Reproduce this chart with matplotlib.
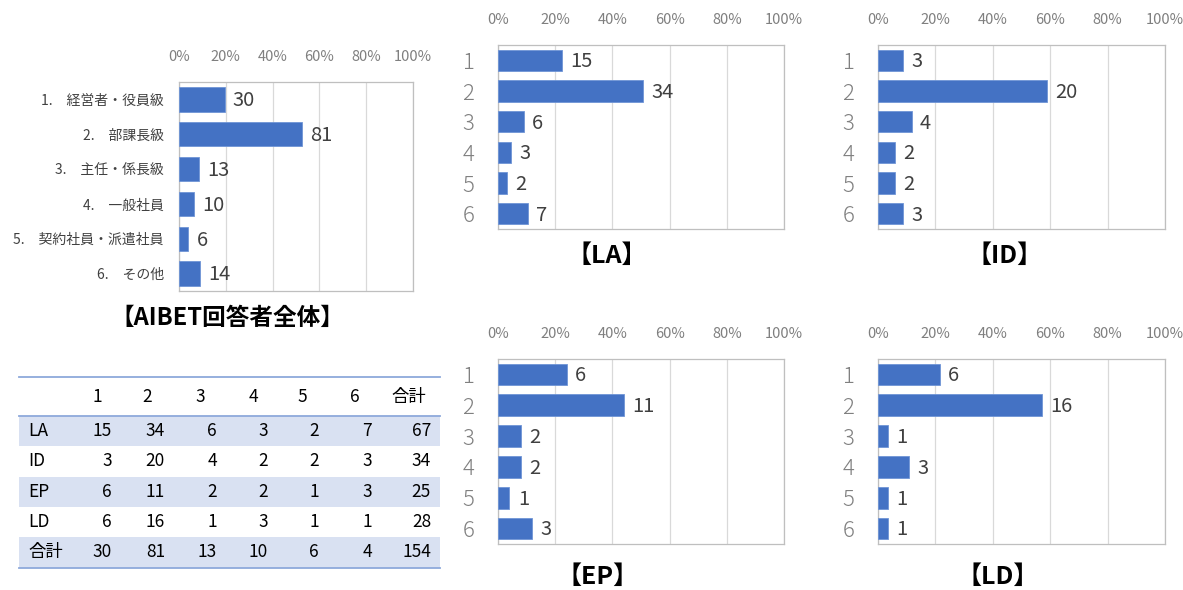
import matplotlib
matplotlib.use("Agg")
import matplotlib.pyplot as plt
from matplotlib.patches import Rectangle

plt.rcParams["font.family"] = ["Noto Sans CJK JP", "DejaVu Sans"]

# ---- data ----
overall_labels = ["1.　経営者・役員級", "2.　部課長級", "3.　主任・係長級",
                  "4.　一般社員", "5.　契約社員・派遣社員", "6.　その他"]
overall_counts = [30, 81, 13, 10, 6, 14]

group_names = ["LA", "ID", "EP", "LD"]
la_counts = [15, 34, 6, 3, 2, 7]
id_counts = [3, 20, 4, 2, 2, 3]
ep_counts = [6, 11, 2, 2, 1, 3]
ld_counts = [6, 16, 1, 3, 1, 1]
group_categories = ["1", "2", "3", "4", "5", "6"]

pct_ticks = [0, 20, 40, 60, 80, 100]
pct_labels = ["0%", "20%", "40%", "60%", "80%", "100%"]

table_header = ["", "1", "2", "3", "4", "5", "6", "合計"]
table_rows = [
    ["LA", "15", "34", "6", "3", "2", "7", "67"],
    ["ID", "3", "20", "4", "2", "2", "3", "34"],
    ["EP", "6", "11", "2", "2", "1", "3", "25"],
    ["LD", "6", "16", "1", "3", "1", "1", "28"],
    ["合計", "30", "81", "13", "10", "6", "4", "154"],
]

W, H = 1183, 590
BAR = "#4472C4"
GRID = "#D9D9D9"
FRAME = "#BFBFBF"

fig = plt.figure(figsize=(W / 100, H / 100), dpi=100)


def px_axes(x0, y0, x1, y1, **kw):
    return fig.add_axes([x0 / W, 1 - y1 / H, (x1 - x0) / W, (y1 - y0) / H], **kw)


def share_chart(ax, labels, counts, cat_size, cat_color, val_size, cat_pad):
    total = sum(counts)
    shares = [c / total * 100 for c in counts]
    ypos = list(range(len(counts)))
    ax.barh(ypos, shares, height=0.7, color=BAR, edgecolor="#6F95D6", linewidth=0.6, zorder=3)
    ax.set_xlim(0, 100)
    ax.set_ylim(len(counts) - 0.5, -0.5)
    ax.set_xticks(pct_ticks)
    ax.set_xticklabels(pct_labels, fontsize=10.5, color="#7F7F7F")
    ax.xaxis.tick_top()
    ax.tick_params(axis="x", length=0, pad=13)
    ax.set_yticks(ypos)
    ax.set_yticklabels(labels, fontsize=cat_size, color=cat_color)
    ax.tick_params(axis="y", length=0, pad=cat_pad)
    ax.grid(axis="x", color=GRID, linewidth=0.9, zorder=0)
    for s in ax.spines.values():
        s.set_color(FRAME)
        s.set_linewidth(0.9)
    for y, s, c in zip(ypos, shares, counts):
        ax.annotate(str(c), (s, y), xytext=(6, -1), textcoords="offset points",
                    ha="left", va="center", fontsize=val_size, color="#404040")


# overall chart
ax0 = px_axes(179, 82, 413, 291)
share_chart(ax0, overall_labels, overall_counts, 10, "#404040", 14.5, 11)
fig.text(227 / W, 1 - 318 / H, "【AIBET回答者全体】", ha="center", va="center",
         fontsize=17, fontweight="bold", color="#000000")

# per-group charts
group_counts = [la_counts, id_counts, ep_counts, ld_counts]
boxes = [(498, 45, 784, 229), (878, 45, 1165, 229),
         (498, 359, 784, 544), (878, 359, 1165, 544)]
title_pos = [(607, 256), (1005, 256), (598, 577), (998, 577)]
for name, counts, box, tp in zip(group_names, group_counts, boxes, title_pos):
    ax = px_axes(*box)
    share_chart(ax, group_categories, counts, 16, "#808080", 14.5, 17)
    for t in ax.get_yticklabels():
        t.set_fontweight("light")
    fig.text(tp[0] / W, 1 - tp[1] / H, f"【{name}】", ha="center", va="center",
             fontsize=18, fontweight="bold", color="#000000")

# summary table
tx0, tx1 = 19, 440
axt = px_axes(0, 0, W, H)
axt.set_xlim(0, W)
axt.set_ylim(H, 0)
axt.axis("off")
row_h = 30.3
header_c = 397
first_top = 416
for i in (0, 2, 4):
    top = first_top + i * row_h
    axt.add_patch(Rectangle((tx0, top), tx1 - tx0, row_h, facecolor="#D9E1F2",
                            edgecolor="none", zorder=1))
line_kw = dict(color="#8EA9DB", linewidth=1.3, zorder=2)
axt.plot([tx0, tx1], [377, 377], **line_kw)
axt.plot([tx0, tx1], [first_top, first_top], **line_kw)
axt.plot([tx0, tx1], [first_top + 5 * row_h, first_top + 5 * row_h], **line_kw)

header_x = [None, 97, 147, 200, 253, 302, 355, 409]
value_right = [None, 112, 165, 217, 268, 319, 372, 431]
for j, h in enumerate(table_header):
    if h:
        axt.text(header_x[j], header_c, h, ha="center", va="center", fontsize=12.5, color="#000000")
for i, row in enumerate(table_rows):
    yc = first_top + (i + 0.5) * row_h
    axt.text(28, yc, row[0], ha="left", va="center", fontsize=12.5, color="#000000")
    for j in range(1, len(row)):
        axt.text(value_right[j], yc, row[j], ha="right", va="center", fontsize=12.5, color="#000000")

fig.savefig("out.png", dpi=100)
